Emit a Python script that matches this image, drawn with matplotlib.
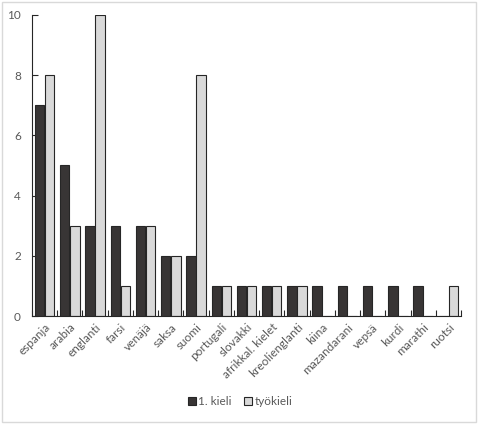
import matplotlib

matplotlib.use("Agg")
import matplotlib.pyplot as plt
import numpy as np
from matplotlib.patches import Rectangle

languages = ["espanja", "arabia", "englanti", "farsi", "venäjä", "saksa", "suomi",
             "portugali", "slovakki", "afrikkal. kielet", "kreolienglanti", "kiina",
             "mazandarani", "vepsä", "kurdi", "marathi", "ruotsi"]
first_lang = [7, 5, 3, 3, 3, 2, 2, 1, 1, 1, 1, 1, 1, 1, 1, 1, 0]
work_lang = [8, 3, 10, 1, 3, 2, 8, 1, 1, 1, 1, 0, 0, 0, 0, 0, 1]

plt.rcParams["font.family"] = ["Lato", "DejaVu Sans"]
text_col = "#595959"

fig = plt.figure(figsize=(5.0, 4.24), dpi=100)
ax = fig.add_axes([0.064, 0.2547, 0.858, 0.71])

x = np.arange(len(languages))
w = 0.37
ax.bar(x - 0.2, first_lang, w, color="#383535", edgecolor="#262626", linewidth=0.8,
       label="1. kieli", zorder=2)
ax.bar(x + 0.2, work_lang, w, color="#d9d9d9", edgecolor="#262626", linewidth=0.8,
       label="työkieli", zorder=2)

ax.set_xlim(-0.5, len(languages) - 0.5)
ax.set_ylim(0, 10)
ax.set_yticks([0, 2, 4, 6, 8, 10])
ax.set_xticks(x)
ax.set_xticklabels(languages, rotation=45, ha="right", rotation_mode="anchor")
ax.set_xticks(np.arange(len(languages) + 1) - 0.5, minor=True)
ax.tick_params(axis="x", which="major", length=0, colors=text_col, labelsize=8.5, pad=4)
ax.tick_params(axis="x", which="minor", direction="in", length=4, color="#262626", width=0.8)
ax.tick_params(axis="y", direction="in", length=4, color="#262626", width=0.8,
               colors=text_col, labelsize=8.5, pad=8)
ax.tick_params(axis="y", color="#262626")
for lbl in ax.get_xticklabels() + ax.get_yticklabels():
    lbl.set_color(text_col)

for side in ["top", "right"]:
    ax.spines[side].set_visible(False)
for side in ["left", "bottom"]:
    ax.spines[side].set_color("#262626")
    ax.spines[side].set_linewidth(0.8)

fig.legend(loc="center", bbox_to_anchor=(0.48, 0.052), ncol=2, frameon=False,
           fontsize=8.5, handlelength=0.7, handleheight=0.7, handletextpad=0.2,
           columnspacing=1.0, labelcolor=text_col)

fig.patches.append(Rectangle((0.004, 0.005), 0.948, 0.99, transform=fig.transFigure,
                             fill=False, edgecolor="#d9d9d9", linewidth=1.0))

fig.savefig("out.png", dpi=100)
plt.close(fig)
